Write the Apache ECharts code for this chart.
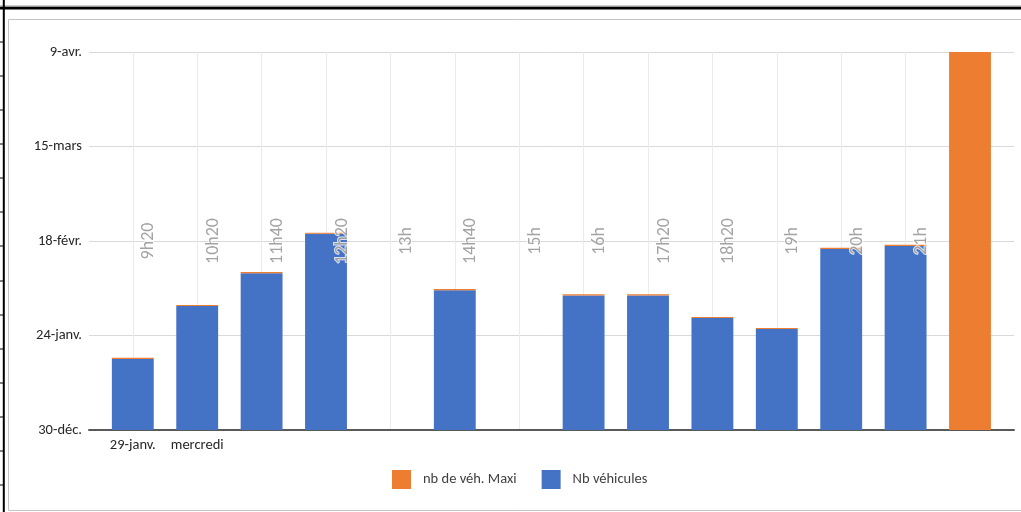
<!DOCTYPE html>
<html>
<head>
<meta charset="utf-8">
<script src="https://cdn.jsdelivr.net/npm/echarts@6/dist/echarts.min.js"></script>
<style>
html,body{margin:0;padding:0;background:#fff;}
#chart{width:1021px;height:512px;}
</style>
</head>
<body>
<div id="chart"></div>
<script>
// ---- data ----
var categories = ['29-janv.', 'mercredi', '', '', '', '', '', '', '', '', '', '', '', ''];
var timeLabels = ['9h20', '10h20', '11h40', '12h20', '13h', '14h40', '15h', '16h', '17h20', '18h20', '19h', '20h', '21h'];
var nbVehicules = [18.8, 32.8, 41.5, 51.9, null, 37.0, null, 35.6, 35.6, 29.6, 26.7, 47.9, 48.7, null];
var nbMaxi = [0.3, 0.3, 0.3, 0.3, null, 0.3, null, 0.3, 0.3, 0.3, 0.3, 0.3, 0.3, 100];
var yTickLabels = ['30-déc.', '24-janv.', '18-févr.', '15-mars', '9-avr.'];
var legendNames = ['nb de véh. Maxi', 'Nb véhicules'];

var FONT = 'Carlito, Lato, sans-serif';
var Y_MIN = 0, Y_MAX = 100, Y_STEP = 25;
var LABEL_Y = 50;

var chart = echarts.init(document.getElementById('chart'), null, {renderer: 'canvas'});

// decorative frame (spreadsheet borders)
var graphics = [
  {type: 'rect', shape: {x: 8.5, y: 19.5, width: 1030, height: 491}, style: {fill: 'none', stroke: '#c4c4c4', lineWidth: 1}, silent: true},
  {type: 'rect', shape: {x: 0, y: 5.6, width: 1021, height: 1}, style: {fill: '#9a9a9a'}, silent: true},
  {type: 'rect', shape: {x: 0, y: 6.8, width: 1021, height: 2.6}, style: {fill: '#000'}, silent: true},
  {type: 'rect', shape: {x: 2.8, y: 0, width: 2, height: 512}, style: {fill: '#000'}, silent: true}
];
for (var k = 0; k < 14; k++) {
  var ty = 42 + k * 34.08;
  graphics.push({type: 'rect', shape: {x: 0, y: Math.round(ty) - 0.5, width: 4, height: 1}, style: {fill: '#000'}, silent: true});
}

var option = {
  animation: false,
  backgroundColor: '#fff',
  textStyle: {fontFamily: FONT},
  graphic: graphics,
  grid: [
    {left: 89, right: 7, top: 52, bottom: 82, containLabel: false},
    {left: 100.6, right: 18.8, top: 52, bottom: 82, containLabel: false}
  ],
  legend: {
    data: legendNames,
    left: 392, top: 470, padding: 0,
    itemWidth: 19, itemHeight: 19, itemGap: 25,
    icon: 'rect',
    textStyle: {fontFamily: FONT, fontSize: 14.5, color: '#404040', padding: [0, 0, 0, 7]}
  },
  xAxis: [
    {
      gridIndex: 0, type: 'category', data: categories, boundaryGap: true,
      axisLine: {show: true, lineStyle: {color: '#595959', width: 2}},
      axisTick: {show: false}, axisLabel: {show: false}, splitLine: {show: false}
    },
    {
      gridIndex: 1, type: 'category', data: categories, boundaryGap: true,
      axisLine: {show: false}, axisTick: {show: false},
      axisLabel: {show: true, interval: 0, margin: 8, fontFamily: FONT, fontSize: 14.5, color: '#262626'},
      splitLine: {show: true, interval: 0, alignWithLabel: true, lineStyle: {color: '#ebebeb', width: 1}}
    }
  ],
  yAxis: [
    {
      gridIndex: 0, type: 'value', min: Y_MIN, max: Y_MAX, interval: Y_STEP,
      axisLine: {show: false}, axisTick: {show: false},
      axisLabel: {margin: 7, fontFamily: FONT, fontSize: 14.5, color: '#262626',
        formatter: function (v) { return yTickLabels[Math.round((v - Y_MIN) / Y_STEP)]; }},
      splitLine: {show: true, lineStyle: {color: '#d9d9d9', width: 1}}
    },
    {
      gridIndex: 1, type: 'value', min: Y_MIN, max: Y_MAX, interval: Y_STEP,
      axisLine: {show: false}, axisTick: {show: false}, axisLabel: {show: false}, splitLine: {show: false}
    }
  ],
  series: [
    {
      name: 'Nb véhicules', type: 'bar', stack: 'total', xAxisIndex: 1, yAxisIndex: 1,
      data: nbVehicules, barWidth: '65%', itemStyle: {color: '#4472C4'}, z: 2
    },
    {
      name: 'nb de véh. Maxi', type: 'bar', stack: 'total', xAxisIndex: 1, yAxisIndex: 1,
      data: nbMaxi, barWidth: '65%', itemStyle: {color: '#ED7D31'}, z: 2
    },
    {
      name: 'heures', type: 'scatter', xAxisIndex: 1, yAxisIndex: 1,
      data: timeLabels.map(function (t, i) { return [i, LABEL_Y]; }),
      symbolSize: 0, silent: true, z: 5,
      label: {
        show: true, position: 'inside', rotate: 90, offset: [0, 16],
        formatter: function (p) { return timeLabels[p.dataIndex]; },
        fontFamily: FONT, fontSize: 18, color: '#8c8c8c',
        textBorderColor: '#fff', textBorderWidth: 2
      }
    }
  ]
};
chart.setOption(option);
</script>
</body>
</html>
